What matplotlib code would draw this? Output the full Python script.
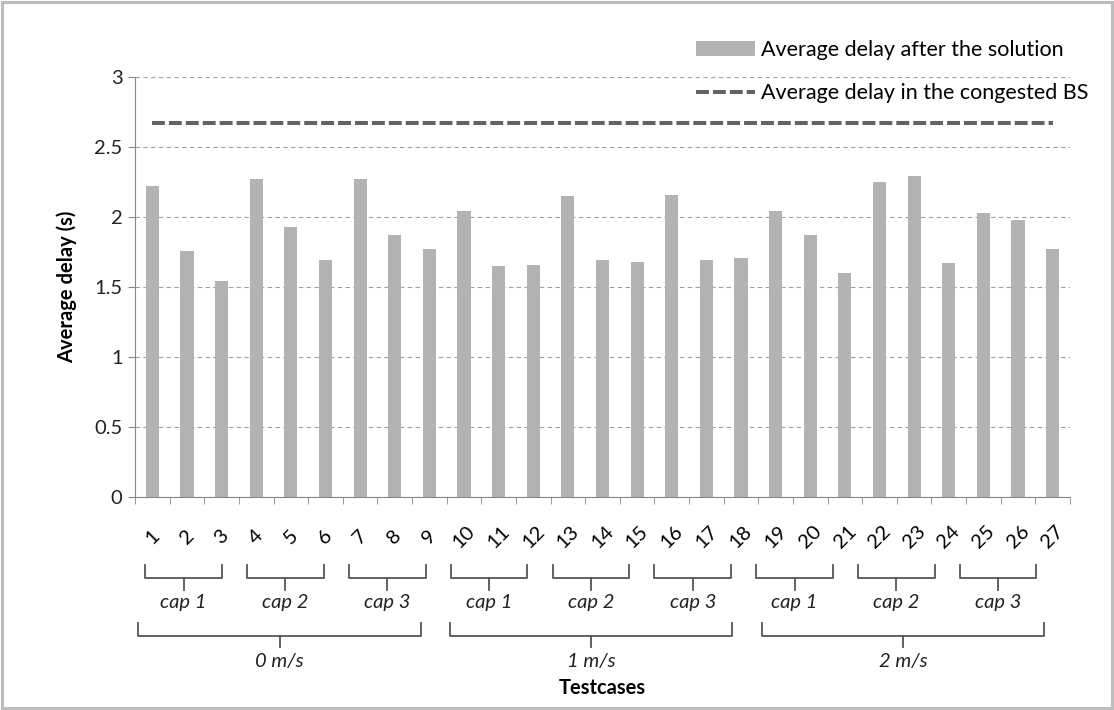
import matplotlib
matplotlib.use("Agg")
import matplotlib.pyplot as plt
import matplotlib.transforms as mtransforms
from matplotlib.patches import Rectangle

# data
testcases = [str(i) for i in range(1, 28)]
delay_after = [2.22, 1.76, 1.54, 2.27, 1.93, 1.69, 2.27, 1.87, 1.77,
               2.04, 1.65, 1.66, 2.15, 1.69, 1.68, 2.16, 1.69, 1.71,
               2.04, 1.87, 1.60, 2.25, 2.29, 1.67, 2.03, 1.98, 1.77]
delay_congested = 2.67
caps = ["cap 1", "cap 2", "cap 3"]
speeds = ["0 m/s", "1 m/s", "2 m/s"]

plt.rcParams['font.family'] = ['Lato', 'DejaVu Sans']

fig = plt.figure(figsize=(11.14, 7.10), dpi=100)
ax = fig.add_axes([0.1212, 0.30, 0.8393, 0.5915])

x = list(range(len(testcases)))
bars = ax.bar(x, delay_after, width=0.38, color='#b3b3b3', zorder=2,
              label='Average delay after the solution')
line, = ax.plot(x, [delay_congested] * len(x), color='#636363', lw=2.9,
                linestyle=(0, (3.2, 1.0)), zorder=3,
                label='Average delay in the congested BS')

ax.set_xlim(-0.5, len(x) - 0.5)
ax.set_ylim(0, 3)
ax.set_yticks([0, 0.5, 1, 1.5, 2, 2.5, 3])
ax.set_yticklabels(['0', '0.5', '1', '1.5', '2', '2.5', '3'], fontsize=14.5, color='#222222')
ax.yaxis.grid(True, linestyle=(0, (4, 3)), color='#a0a0a0', lw=0.8, zorder=0)
ax.tick_params(axis='y', length=5, color='#888888', pad=4)

# category labels rotated, boundary tick marks
ax.set_xticks(x)
ax.set_xticklabels(testcases, rotation=45, ha='center', va='center',
                   fontsize=14.5, rotation_mode='anchor')
ax.tick_params(axis='x', which='major', length=0, pad=29)
ax.set_xticks([i - 0.5 for i in range(len(x) + 1)], minor=True)
ax.tick_params(axis='x', which='minor', length=5, color='#888888', direction='out')

for side in ['top', 'right']:
    ax.spines[side].set_visible(False)
ax.spines[['left', 'bottom']].set_color('#888888')

ax.set_ylabel('Average delay (s)', fontsize=14.5, fontweight='bold', labelpad=12)

# brackets under the axis
trans = mtransforms.blended_transform_factory(ax.transData, ax.transAxes)


def bracket(x0, x1, ytop, ybar, ytip, text, ytext, style):
    xm = (x0 + x1) / 2
    ax.plot([x0, x0, x1, x1], [ytop, ybar, ybar, ytop], color='#555555', lw=1.3,
            transform=trans, clip_on=False)
    ax.plot([xm, xm], [ybar, ytip], color='#555555', lw=1.3,
            transform=trans, clip_on=False)
    ax.text(xm, ytext, text, transform=trans, ha='center', va='center',
            fontsize=14.5, style=style, color='#222222')


for s, speed in enumerate(speeds):
    for c, cap in enumerate(caps):
        first = s * 9 + c * 3
        last = first + 2
        bracket(0.98 * first - 0.2, 0.98 * last + 0.05,
                -0.162, -0.193, -0.221, cap, -0.252, 'italic')
    first = s * 9
    last = first + 8
    bracket(first - 0.4, last - 0.25, -0.30, -0.330, -0.356, speed, -0.392, 'italic')

ax.text(0.5 * (len(x) - 1), -0.455, 'Testcases', transform=trans, ha='center',
        va='center', fontsize=14.5, fontweight='bold')

ax.legend(handles=[bars, line], loc='upper right', bbox_to_anchor=(0.977, 0.944),
          bbox_transform=fig.transFigure, frameon=False, fontsize=15.5,
          handlelength=2.7, handletextpad=0.3, labelspacing=1.1, borderaxespad=0,
          borderpad=0)

fig.patches.append(Rectangle((0.002, 0.003), 0.996, 0.994, transform=fig.transFigure,
                             fill=False, edgecolor='#bdbdbd', lw=2.2))

fig.savefig('out.png', dpi=100)
